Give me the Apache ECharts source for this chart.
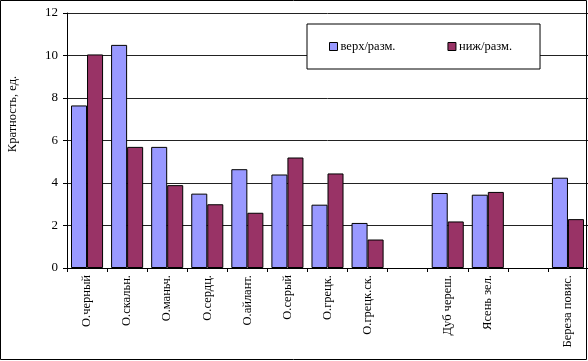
<!DOCTYPE html>
<html><head><meta charset="utf-8">
<script src="https://cdn.jsdelivr.net/npm/echarts@6/dist/echarts.min.js"></script>
<style>html,body{margin:0;padding:0;background:#fff}#c{width:588px;height:361px}</style>
</head><body><div id="c"></div>
<script>
const categories = ["О.черный","О.скальн.","О.маньч.","О.сердц.","О.айлант.","О.серый","О.грецк.","О.грецк.ск.","","Дуб череш.","Ясень зел.","","Береза повис."];
const upper = [7.65, 10.5, 5.7, 3.5, 4.65, 4.4, 2.98, 2.12, null, 3.53, 3.45, null, 4.25];
const lower = [10.05, 5.7, 3.9, 3.0, 2.6, 5.2, 4.45, 1.34, null, 2.19, 3.58, null, 2.3];
const yTicks = {min: 0, max: 12, interval: 2};
const seriesNames = ["верх/разм.", "ниж/разм."];
const yTitle = 'Кратность, ед.';
const font = "'Liberation Serif','Times New Roman',serif";
const chart = echarts.init(document.getElementById('c'));
chart.setOption({
  animation: false,
  backgroundColor: '#fff',
  textStyle: {fontFamily: font},
  grid: {left: 67, right: -1, top: 13, bottom: 93, containLabel: false},
  legend: {
    left: 307, top: 24,
    padding: [16, 28, 16, 22],
    itemGap: 52, itemWidth: 8, itemHeight: 8,
    icon: 'rect',
    borderColor: '#000', borderWidth: 1, backgroundColor: '#fff',
    textStyle: {fontFamily: font, fontSize: 12.5, color: '#000', padding: [0,0,0,-2]},
    data: seriesNames.map(n => ({name: n, itemStyle: {borderColor: '#000', borderWidth: 1}}))
  },
  xAxis: {
    type: 'category', data: categories,
    axisLine: {lineStyle: {color: '#000', width: 1}},
    axisTick: {show: true, inside: false, length: 4, lineStyle: {color: '#000'}},
    axisLabel: {rotate: 90, interval: 0, fontFamily: font, fontSize: 12.5, color: '#000', margin: 7},
    splitLine: {show: false}
  },
  yAxis: {
    type: 'value', min: yTicks.min, max: yTicks.max, interval: yTicks.interval,
    axisLine: {show: true, lineStyle: {color: '#000', width: 1}},
    axisTick: {show: true, length: 4, lineStyle: {color: '#000'}},
    axisLabel: {fontFamily: font, fontSize: 13, color: '#000', margin: 9},
    splitLine: {show: true, lineStyle: {color: '#222', width: 1}}
  },
  series: [
    {name: seriesNames[0], type: 'bar', data: upper, barGap: '0%', barCategoryGap: '20%',
     itemStyle: {color: '#9999FF', borderColor: '#000', borderWidth: 1}},
    {name: seriesNames[1], type: 'bar', data: lower, barGap: '0%', barCategoryGap: '20%',
     itemStyle: {color: '#993366', borderColor: '#000', borderWidth: 1}}
  ],
  graphic: [
    {type: 'text', x: 13, y: 114, rotation: Math.PI / 2,
     style: {text: yTitle, font: "12.5px " + font, fill: '#000', align: 'center', verticalAlign: 'middle'}},
    {type: 'rect', shape: {x: 0.5, y: 0.5, width: 586, height: 359}, style: {fill: null, stroke: '#000', lineWidth: 1}, z: 100}
  ]
});
</script></body></html>
